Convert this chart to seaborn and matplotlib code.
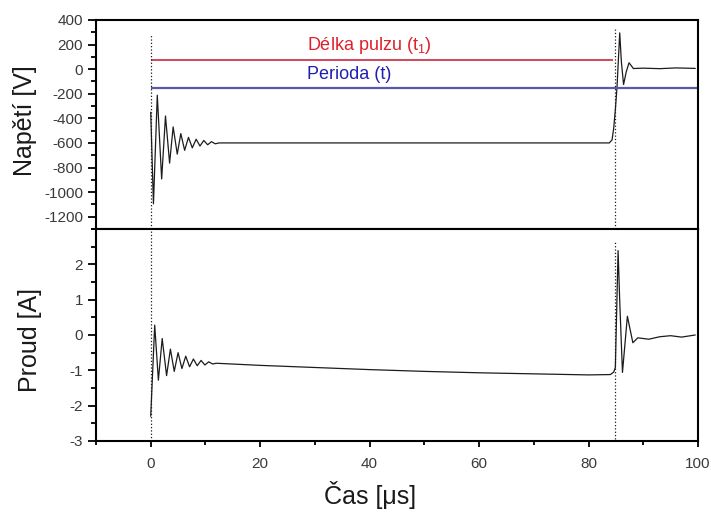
import matplotlib
matplotlib.use("Agg")
import matplotlib.pyplot as plt
from matplotlib.ticker import MultipleLocator
import seaborn as sns

# Voltage trace (µs, V)
t_voltage = [0, 0.5, 1.2, 2.0, 2.7, 3.45, 4.1, 4.85, 5.5, 6.2, 6.9, 7.6, 8.3, 9.0,
             9.7, 10.4, 11.1, 11.8, 12.5, 20, 40, 60, 80, 83.8, 84.3, 84.6, 84.9,
             85.2, 85.7, 86.0, 86.4, 86.9, 87.4, 88.2, 90, 93, 96, 99.5]
voltage = [-350, -1095, -212, -893, -381, -764, -470, -691, -524, -660, -555, -640,
           -570, -625, -580, -615, -590, -607, -600, -600, -600, -600, -600, -600,
           -575, -480, -330, -150, 295, 60, -125, -20, 52, 5, 8, 4, 10, 6]

# Current trace (µs, A)
t_current = [0, 0.73, 1.4, 2.1, 2.9, 3.6, 4.3, 5.0, 5.7, 6.4, 7.1, 7.8, 8.5, 9.2,
             9.9, 10.6, 11.3, 12, 20, 30, 40, 50, 60, 70, 80, 84.0, 84.6, 84.9,
             85.4, 85.7, 86.2, 87.1, 88.1, 89, 91, 93, 95, 97, 99.5]
current = [-2.3, 0.28, -1.28, -0.1, -1.15, -0.40, -1.03, -0.5, -0.95, -0.6, -0.9,
           -0.68, -0.87, -0.72, -0.85, -0.76, -0.82, -0.80, -0.86, -0.92, -0.98,
           -1.03, -1.07, -1.10, -1.13, -1.12, -1.05, -0.92, 2.39, 0.96, -1.06, 0.53,
           -0.22, -0.08, -0.12, -0.05, -0.02, -0.06, 0.0]

# Pulse markers
pulse_start = 0
pulse_end = 84.8
pulse_length_level = 75
period_level = -150

sns.set_theme(style="ticks")
plt.rcParams["font.family"] = ["Liberation Sans", "DejaVu Sans"]

fig = plt.figure(figsize=(7.11, 5.13), dpi=100)
ax1 = fig.add_axes([0.135, 0.5536, 0.8467, 0.4075])
ax2 = fig.add_axes([0.135, 0.1404, 0.8467, 0.4132], sharex=ax1)

trace_color = "#1c1c1c"
sns.lineplot(x=t_voltage, y=voltage, ax=ax1, color=trace_color, lw=0.9,
             estimator=None, sort=False)
sns.lineplot(x=t_current, y=current, ax=ax2, color=trace_color, lw=0.9,
             estimator=None, sort=False)

# Pulse length and period bars
ax1.hlines(pulse_length_level, pulse_start, 84.5, color="#c8283c", lw=1.2)
ax1.hlines(period_level, pulse_start, 100, color="#5a5aa8", lw=1.6)
ax1.text(28.5, 195, r"Délka pulzu (t$_\mathregular{1}$)", color="#e0202a",
         fontsize=13, ha="left", va="center")
ax1.text(28.5, -40, "Perioda (t)", color="#2020b0", fontsize=13,
         ha="left", va="center")

# Dotted markers of pulse start / end
ax1.vlines(pulse_start, -1300, 280, colors="k", linestyles=":", lw=0.9)
ax1.vlines(pulse_end, -1300, 330, colors="k", linestyles=":", lw=0.9)
ax2.vlines(pulse_start, -3, 3, colors="k", linestyles=":", lw=0.9)
ax2.vlines(pulse_end, -2.93, 2.65, colors="k", linestyles=":", lw=0.9)

ax1.set_xlim(-10, 100)
ax1.set_ylim(-1300, 400)
ax2.set_ylim(-3, 3)

ax1.yaxis.set_major_locator(MultipleLocator(200))
ax1.yaxis.set_minor_locator(MultipleLocator(100))
ax2.yaxis.set_major_locator(MultipleLocator(1))
ax2.yaxis.set_minor_locator(MultipleLocator(0.5))
ax2.set_yticks([-3, -2, -1, 0, 1, 2])
ax2.set_yticklabels(["-3", "-2", "-1", "0", "1", "2"])
ax1.set_yticks(list(range(-1200, 401, 200)))
ax1.set_yticklabels([str(v) for v in range(-1200, 401, 200)])
ax2.xaxis.set_major_locator(MultipleLocator(20))
ax2.xaxis.set_minor_locator(MultipleLocator(10))

for ax in (ax1, ax2):
    for s in ax.spines.values():
        s.set_visible(True)
        s.set_color("black")
        s.set_linewidth(1.5)
    ax.tick_params(axis="both", which="both", direction="out", colors="black",
                   labelcolor="#3a3a3a", labelsize=11, width=1.3,
                   top=False, right=False)
    ax.tick_params(axis="y", which="major", length=5.8, pad=3.5)
    ax.tick_params(axis="y", which="minor", length=3.4)
    ax.tick_params(axis="x", which="major", length=4.5, pad=7)
    ax.tick_params(axis="x", which="minor", length=3.0)

ax1.tick_params(axis="x", labelbottom=False)

ax1.set_ylabel("Napětí [V]", fontsize=18, color="#1a1a1a")
ax1.yaxis.set_label_coords(-0.098, 0.52)
ax2.set_ylabel("Proud [A]", fontsize=18, color="#1a1a1a")
ax2.yaxis.set_label_coords(-0.09, 0.476)
ax2.set_xlabel("Čas [μs]", fontsize=18, color="#1a1a1a")
ax2.xaxis.set_label_coords(0.455, -0.19)

fig.savefig("out.png", dpi=100, facecolor="white")
